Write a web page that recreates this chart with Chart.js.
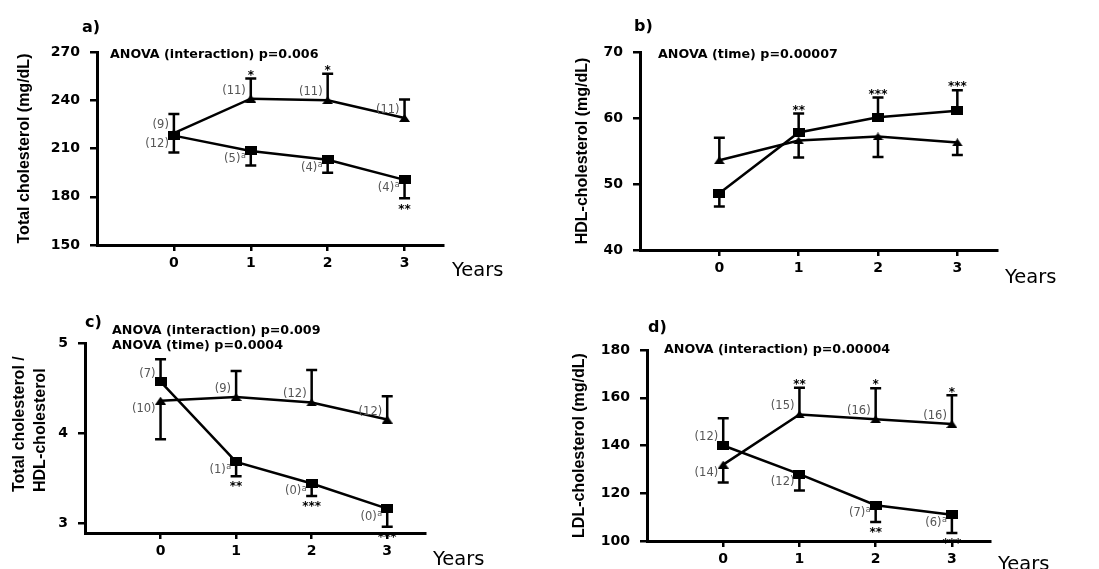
<!DOCTYPE html>
<html><head><meta charset="utf-8">
<script src="https://cdn.jsdelivr.net/npm/chart.js@4.4.1/dist/chart.umd.min.js"></script>
<style>
html,body{margin:0;padding:0;background:#fff;width:1099px;height:569px;overflow:hidden;position:relative}
.box{position:absolute}
.t{position:absolute;white-space:nowrap;line-height:1;color:#000}
.lt{font:bold 16px "DejaVu Sans"}
.an{font:bold 12.7px "DejaVu Sans"}
.yr{font:19.5px "DejaVu Sans"}
.vt{position:absolute;writing-mode:vertical-rl;transform:rotate(180deg);font:bold 16px "Liberation Sans";line-height:21px;color:#000;white-space:nowrap}
</style></head><body>
<div class="box" style="left:0;top:0;width:549px;height:285px"><canvas id="cA"></canvas></div>
<div class="box" style="left:549px;top:0;width:550px;height:285px"><canvas id="cB"></canvas></div>
<div class="box" style="left:0;top:285px;width:549px;height:284px"><canvas id="cC"></canvas></div>
<div class="box" style="left:549px;top:285px;width:550px;height:284px"><canvas id="cD"></canvas></div>

<div class="t lt" style="left:82px;top:17px">a)</div>
<div class="t lt" style="left:634px;top:16px">b)</div>
<div class="t lt" style="left:85px;top:312px">c)</div>
<div class="t lt" style="left:648px;top:317px">d)</div>

<div class="t an" style="left:110px;top:46px">ANOVA (interaction) p=0.006</div>
<div class="t an" style="left:658px;top:46px">ANOVA (time) p=0.00007</div>
<div class="t an" style="left:112px;top:322px">ANOVA (interaction) p=0.009</div>
<div class="t an" style="left:112px;top:337px">ANOVA (time) p=0.0004</div>
<div class="t an" style="left:664px;top:341px">ANOVA (interaction) p=0.00004</div>

<div class="t yr" style="left:452px;top:258px">Years</div>
<div class="t yr" style="left:1005px;top:265px">Years</div>
<div class="t yr" style="left:433px;top:547px">Years</div>
<div class="t yr" style="left:998px;top:552px">Years</div>

<div class="vt" style="left:8px;top:342px;width:42px;height:150px">Total cholesterol /<br>HDL-cholesterol</div>

<script>
// ---------- data ----------
const years = [0, 1, 2, 3];

// a) Total cholesterol (mg/dL)
const tcTicks = [150, 180, 210, 240, 270];
const tcTriangle = [219.5, 241, 240, 229];
const tcTriangleErr = [12, 12.5, 16.5, 11.5];
const tcTriangleN = ['9', '11', '11', '11'];
const tcTriangleStars = [0, 1, 1, 0];
const tcSquare = [218, 208.5, 203, 190.5];
const tcSquareErr = [10.5, 9, 8, 11.5];
const tcSquareN = ['12', '5', '4', '4'];
const tcSquareSup = [false, true, true, true];
const tcSquareStars = [0, 0, 0, 2];

// b) HDL-cholesterol (mg/dL)
const hdlTicks = [40, 50, 60, 70];
const hdlTriangle = [53.6, 56.6, 57.2, 56.3];
const hdlTriangleErr = [3.4, 2.6, 3.1, 1.9];
const hdlSquare = [48.6, 57.8, 60.1, 61.1];
const hdlSquareErr = [2.0, 2.9, 3.0, 3.1];
const hdlSquareStars = [0, 2, 3, 3];

// c) Total cholesterol / HDL-cholesterol
const ratioTicks = [3, 4, 5];
const ratioTriangle = [4.36, 4.40, 4.34, 4.15];
const ratioTriangleErr = [0.43, 0.29, 0.36, 0.26];
const ratioTriangleN = ['10', '9', '12', '12'];
const ratioSquare = [4.57, 3.68, 3.44, 3.16];
const ratioSquareErr = [0.25, 0.16, 0.14, 0.2];
const ratioSquareN = ['7', '1', '0', '0'];
const ratioSquareSup = [false, true, true, true];
const ratioSquareStars = [0, 2, 3, 3];

// d) LDL-cholesterol (mg/dL)
const ldlTicks = [100, 120, 140, 160, 180];
const ldlTriangle = [132, 153, 151, 149];
const ldlTriangleErr = [7.5, 11.2, 13, 12];
const ldlTriangleN = ['14', '15', '16', '16'];
const ldlTriangleStars = [0, 2, 1, 1];
const ldlSquare = [140, 128, 115, 111];
const ldlSquareErr = [11.4, 6.8, 7, 7.6];
const ldlSquareN = ['12', '12', '7', '6'];
const ldlSquareSup = [false, false, true, true];
const ldlSquareStars = [0, 0, 2, 3];

// error bar side (1 = drawn upward, -1 = drawn downward)
const sideAllUp = [1, 1, 1, 1];
const sideAllDown = [-1, -1, -1, -1];
const sideFirstUp = [1, -1, -1, -1];
const sideFirstDown = [-1, 1, 1, 1];

// ---------- markers ----------
function mk(w, h, draw) {
  const c = document.createElement('canvas'); c.width = w; c.height = h;
  const g = c.getContext('2d'); g.fillStyle = '#000'; draw(g, w, h); return c;
}
const sqImg = mk(12, 9, (g, w, h) => g.fillRect(0, 0, w, h));
const triImg = mk(11, 8, (g, w, h) => { g.beginPath(); g.moveTo(w / 2, 0); g.lineTo(w, h); g.lineTo(0, h); g.closePath(); g.fill(); });

// ---------- plugin: error bars, n labels, stars ----------
const annot = {
  id: 'annot',
  afterDatasetsDraw(chart) {
    const ctx = chart.ctx, ys = chart.scales.y;
    chart.data.datasets.forEach((ds, di) => {
      const meta = chart.getDatasetMeta(di);
      meta.data.forEach((pt, i) => {
        const x = pt.x, y = pt.y, side = ds.errSide[i];
        const yEnd = ys.getPixelForValue(ds.data[i].y + side * ds.errors[i]);
        ctx.save();
        ctx.strokeStyle = '#000'; ctx.lineWidth = 2.5;
        ctx.beginPath();
        ctx.moveTo(x, y); ctx.lineTo(x, yEnd);
        ctx.moveTo(x - 5.5, yEnd); ctx.lineTo(x + 5.5, yEnd);
        ctx.stroke();
        if (ds.nLabels) {
          const ly = y - side * 8;
          let rx = x - 5;
          ctx.fillStyle = '#555'; ctx.textBaseline = 'middle'; ctx.textAlign = 'right';
          if (ds.sup && ds.sup[i]) {
            ctx.font = '8px "DejaVu Sans"';
            ctx.fillText('a', rx, ly - 3);
            rx -= ctx.measureText('a').width + 0.5;
          }
          ctx.font = '11.5px "DejaVu Sans"';
          ctx.fillText('(' + ds.nLabels[i] + ')', rx, ly);
        }
        if (ds.stars && ds.stars[i]) {
          ctx.fillStyle = '#000'; ctx.font = 'bold 12px "DejaVu Sans"';
          ctx.textAlign = 'center'; ctx.textBaseline = 'alphabetic';
          const cy = yEnd - side * 7;
          ctx.fillText('*'.repeat(ds.stars[i]), x, cy + 7.2);
        }
        ctx.restore();
      });
    });
  }
};

function series(vals, errs, side, n, sup, stars, img) {
  return {
    data: years.map((x, i) => ({ x: x, y: vals[i] })),
    errors: errs, errSide: side, nLabels: n, sup: sup, stars: stars,
    borderColor: '#000', borderWidth: 2.5, tension: 0, fill: false,
    pointStyle: img, pointRadius: 5, pointHoverRadius: 5,
    pointBackgroundColor: '#000', pointBorderColor: '#000'
  };
}

const tickFont = { family: 'DejaVu Sans', weight: 'bold', size: 14 };
function makeChart(id, c) {
  return new Chart(document.getElementById(id), {
    type: 'line',
    data: { datasets: [c.tri, c.sq] },
    options: {
      responsive: true, maintainAspectRatio: false, animation: false,
      layout: { padding: { top: c.top, right: c.right, bottom: 0, left: 0 } },
      plugins: { legend: { display: false }, tooltip: { enabled: false } },
      scales: {
        x: {
          type: 'linear', min: -1, max: 3.5,
          afterBuildTicks: s => { s.ticks = years.map(v => ({ value: v })); },
          afterFit: s => { s.height = c.xh; },
          grid: { drawOnChartArea: false, drawTicks: true, tickLength: 6, color: '#000', lineWidth: 2.5 },
          border: { display: true, color: '#000', width: 3 },
          ticks: { font: tickFont, color: '#000', padding: 4 }
        },
        y: {
          type: 'linear', min: c.min, max: c.max,
          afterBuildTicks: s => { s.ticks = c.ticks.map(v => ({ value: v })); },
          afterFit: s => { s.width = c.left; },
          grid: { drawOnChartArea: false, drawTicks: true, tickLength: 7, color: '#000', lineWidth: 2.5 },
          border: { display: true, color: '#000', width: 3 },
          ticks: { font: tickFont, color: '#000', padding: 10 },
          title: {
            display: !!c.ytitle, text: c.ytitle || '', color: '#000',
            font: { family: 'Liberation Sans', weight: 'bold', size: 16, lineHeight: 1.2 },
            padding: { top: c.tpad || 0, bottom: 0 }
          }
        }
      }
    },
    plugins: [annot]
  });
}

makeChart('cA', {
  tri: series(tcTriangle, tcTriangleErr, sideAllUp, tcTriangleN, null, tcTriangleStars, triImg),
  sq: series(tcSquare, tcSquareErr, sideAllDown, tcSquareN, tcSquareSup, tcSquareStars, sqImg),
  min: 150, max: 270, ticks: tcTicks, top: 52, right: 106, left: 97, xh: 40,
  ytitle: 'Total cholesterol (mg/dL)', tpad: 15.4
});
makeChart('cB', {
  tri: series(hdlTriangle, hdlTriangleErr, sideFirstUp, null, null, null, triImg),
  sq: series(hdlSquare, hdlSquareErr, sideFirstDown, null, null, hdlSquareStars, sqImg),
  min: 40, max: 70, ticks: hdlTicks, top: 52, right: 102, left: 91, xh: 35,
  ytitle: 'HDL-cholesterol (mg/dL)', tpad: 24.4
});
makeChart('cC', {
  tri: series(ratioTriangle, ratioTriangleErr, sideFirstDown, ratioTriangleN, null, null, triImg),
  sq: series(ratioSquare, ratioSquareErr, sideFirstUp, ratioSquareN, ratioSquareSup, ratioSquareStars, sqImg),
  min: 2.89, max: 5, ticks: ratioTicks, top: 58, right: 124, left: 85, xh: 36
});
makeChart('cD', {
  tri: series(ldlTriangle, ldlTriangleErr, sideFirstDown, ldlTriangleN, null, ldlTriangleStars, triImg),
  sq: series(ldlSquare, ldlSquareErr, sideFirstUp, ldlSquareN, ldlSquareSup, ldlSquareStars, sqImg),
  min: 100, max: 180, ticks: ldlTicks, top: 65, right: 109, left: 98, xh: 28,
  ytitle: 'LDL-cholesterol (mg/dL)', tpad: 21.4
});
</script>
</body></html>
